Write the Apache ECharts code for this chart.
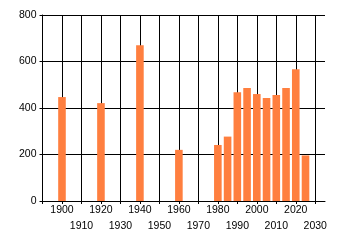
<!DOCTYPE html>
<html>
<head>
<meta charset="utf-8">
<script src="https://cdn.jsdelivr.net/npm/echarts@6/dist/echarts.min.js"></script>
<style>html,body{margin:0;padding:0;background:#fff;}#c{width:340px;height:245px;}</style>
</head>
<body>
<div id="c"></div>
<script>
const years = [1900, 1920, 1940, 1960, 1980, 1985, 1990, 1995, 2000, 2005, 2010, 2015, 2020, 2025];
const values = [447, 421, 670, 220, 241, 277, 468, 486, 460, 443, 456, 486, 567, 196];
const xMin = 1890, xMax = 2035, xGridMax = 2030, xStep = 10;
const yMin = 0, yMax = 800, yStep = 200;

const chart = echarts.init(document.getElementById('c'), null, {renderer: 'canvas'});
const font = {fontFamily: 'Liberation Sans', fontSize: 10.5, color: '#000'};
const pxPerYear = (340 - 42.5 - 15) / (xMax - xMin);
const isUpper = v => Math.round(v / 10) % 2 === 0;
const labelAxis = (upper, margin) => ({
  gridIndex: 1, type: 'value', min: xMin, max: xGridMax, interval: xStep,
  axisLine: {show: false},
  axisTick: {show: upper, length: 3, lineStyle: {color: '#000'}},
  axisLabel: Object.assign({margin: margin, showMaxLabel: true, showMinLabel: true, hideOverlap: false,
    formatter: v => (v === xMin || isUpper(v) !== upper) ? '' : String(v)}, font),
  splitLine: {show: upper, lineStyle: {color: '#000', width: 1}}
});
chart.setOption({
  animation: false,
  grid: [
    {left: 42.5, top: 15, right: 15, bottom: 44},
    {left: 42.5, top: 15, right: 340 - 42.5 - (xGridMax - xMin) * pxPerYear, bottom: 44}
  ],
  xAxis: [
    {gridIndex: 0, type: 'value', min: xMin, max: xMax, interval: xStep,
     axisLine: {show: true, lineStyle: {color: '#000', width: 1}},
     axisTick: {show: false}, axisLabel: {show: false}, splitLine: {show: false}},
    labelAxis(true, 4),
    Object.assign(labelAxis(false, 20), {position: 'bottom', offset: 0})
  ],
  yAxis: [
    {gridIndex: 0, type: 'value', min: yMin, max: yMax, interval: yStep,
     axisLine: {show: true, lineStyle: {color: '#000', width: 1}},
     axisTick: {show: true, length: 3, lineStyle: {color: '#000'}},
     axisLabel: Object.assign({margin: 6}, font),
     splitLine: {show: true, lineStyle: {color: '#000', width: 1}}},
    {gridIndex: 1, type: 'value', min: yMin, max: yMax, show: false}
  ],
  series: [{
    type: 'bar', xAxisIndex: 0, yAxisIndex: 0,
    data: years.map((y, i) => [y, values[i]]),
    barWidth: 7.6,
    itemStyle: {color: '#FF7F3F'}
  }]
});
</script>
</body>
</html>
